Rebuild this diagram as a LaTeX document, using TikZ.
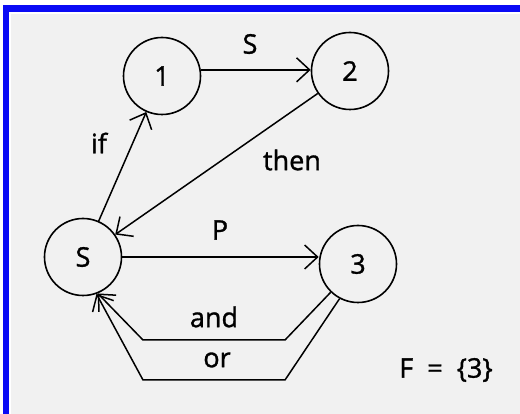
\documentclass[tikz,border=0pt]{standalone}
\usepackage{fontspec}
\setmainfont{Open Sans}[FakeBold=1.2]
\usetikzlibrary{arrows.meta}
\definecolor{paper}{HTML}{F1F1F1}
\definecolor{frameblue}{HTML}{0A0AF5}
\begin{document}
\begin{tikzpicture}[x=1pt,y=-1pt,
  state/.style={circle,draw,line width=1.6pt,minimum size=77pt,inner sep=0pt,font=\fontsize{27}{30}\selectfont},
  lbl/.style={font=\fontsize{27}{30}\selectfont,inner sep=0pt},
  edge/.style={line width=1.5pt,-{Straight Barb[length=13pt,width=24pt,line width=1.5pt]}}]
\useasboundingbox (0,0) rectangle (520,414);
\fill[white] (0,0) rectangle (520,414);
\fill[paper] (11,14) rectangle (520,414);
\fill[frameblue] (3,5) rectangle (520,12);
\fill[frameblue] (3,5) rectangle (9,414);
\node[state] (n1) at (162,76) {1};
\node[state] (n2) at (350,71) {2};
\node[state] (s) at (83,257) {S};
\node[state] (n3) at (358,264) {3};
\coordinate (a1) at (285,340);
\coordinate (a2) at (143,340);
\coordinate (o1) at (285,380);
\coordinate (o2) at (143,380);
\draw[edge] (n1.9) -- (n1.9 -| n2.west);
\draw[edge] (s) -- (n1);
\draw[edge] (n2) -- (s);
\draw[edge] (s.east) -- (s.east -| n3.west);
\draw[edge] (n3.226) -- (a1) -- (a2) -- (s.292);
\draw[edge] (n3.242) -- (o1) -- (o2) -- (s.290);
\node[lbl] (ls) at (250,44) {S};
\node[lbl] (lif) at (99,143) {if};
\node[lbl] (lthen) at (292,160) {then};
\node[lbl] (lp) at (220,230) {P};
\node[lbl] (land) at (214,317) {and};
\node[lbl] (lor) at (217,360) {or};
\node[lbl] (lf) at (446,370) {F\ \ =\ \ \{3\}};
\end{tikzpicture}
\end{document}
